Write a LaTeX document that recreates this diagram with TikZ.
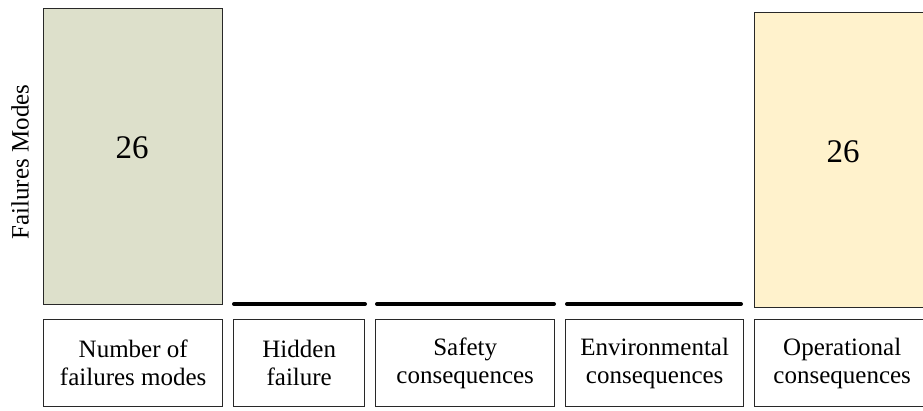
\documentclass[tikz,border=0pt]{standalone}
\usepackage{fontspec}
\setmainfont{Liberation Serif}
\definecolor{barGreen}{RGB}{221,224,203}
\definecolor{barYellow}{RGB}{255,242,204}
\definecolor{edgeGray}{RGB}{40,40,40}
\begin{document}
\begin{tikzpicture}[x=1pt,y=-1pt,
  bar/.style={draw=edgeGray,line width=1.4pt,anchor=north west,inner sep=0pt},
  catbox/.style={draw=edgeGray,line width=1.4pt,fill=white,anchor=north west,inner sep=0pt,
    align=center,font=\fontsize{25}{28}\selectfont},
  zerobar/.style={line width=4pt,line cap=round,black},
  value/.style={font=\fontsize{33}{38}\selectfont}]
\useasboundingbox[fill=white] (0,0) rectangle (923,410);
% value bars
\node[bar,fill=barGreen,minimum width=179pt,minimum height=296pt] (b1) at (43,8) {};
\node[value] (v1) at (132,148) {26};
\node[bar,fill=barYellow,minimum width=175pt,minimum height=295pt] (b5) at (754,12) {};
\node[value] (v5) at (843,152) {26};
% zero-height bars
\coordinate (z2a) at (234,304); \coordinate (z2b) at (365,304);
\coordinate (z3a) at (377,304); \coordinate (z3b) at (554,304);
\coordinate (z4a) at (567,304); \coordinate (z4b) at (741,304);
\draw[zerobar] (z2a) -- (z2b);
\draw[zerobar] (z3a) -- (z3b);
\draw[zerobar] (z4a) -- (z4b);
% category labels
\node[catbox,minimum width=179pt,minimum height=87pt] (c1) at (43,319) {Number of\\failures modes};
\node[catbox,minimum width=131pt,minimum height=87pt] (c2) at (233,319) {Hidden\\failure};
\node[catbox,minimum width=179pt,minimum height=87pt] (c3) at (375,319) {Safety\\consequences};
\node[catbox,minimum width=178pt,minimum height=87pt] (c4) at (565,319) {Environmental\\consequences};
\node[catbox,minimum width=175pt,minimum height=87pt] (c5) at (754,319) {Operational\\consequences};
% axis title
\node[rotate=90,font=\fontsize{25}{30}\selectfont] (yl) at (20,162) {Failures Modes};
\end{tikzpicture}
\end{document}
